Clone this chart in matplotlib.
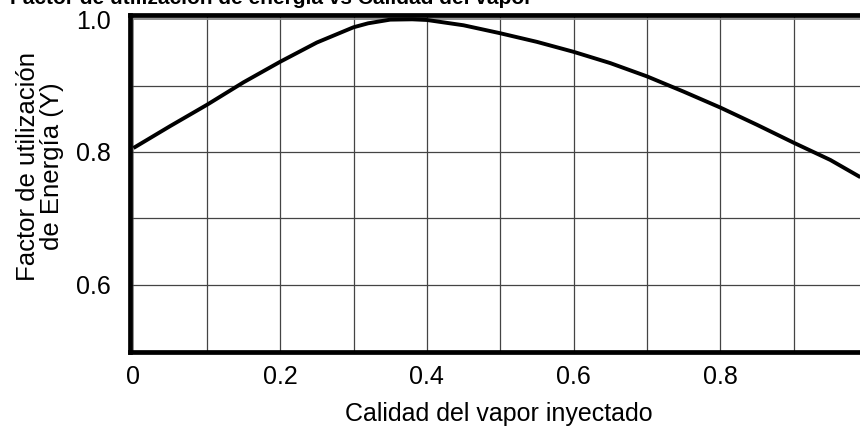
import matplotlib
matplotlib.use("Agg")
import matplotlib.pyplot as plt
import numpy as np

calidad = [0.0, 0.05, 0.1, 0.15, 0.2, 0.25, 0.3, 0.32, 0.35, 0.38, 0.4, 0.45, 0.5, 0.55,
           0.6, 0.65, 0.7, 0.75, 0.8, 0.85, 0.9, 0.95, 0.991]
factor = [0.806, 0.839, 0.871, 0.905, 0.936, 0.965, 0.988, 0.994, 0.9995, 1.0, 0.999, 0.991, 0.979, 0.966,
          0.951, 0.934, 0.914, 0.891, 0.867, 0.841, 0.814, 0.788, 0.762]
xticks = [0, 0.2, 0.4, 0.6, 0.8]
xtick_labels = ["0", "0.2", "0.4", "0.6", "0.8"]
yticks = [0.6, 0.8, 1.0]
ytick_labels = ["0.6", "0.8", "1.0"]
title = "Factor de utilización de energía vs Calidad del vapor"
xlabel = "Calidad del vapor inyectado"
ylabel = "Factor de utilización\nde Energía (Y)"

plt.rcParams['font.family'] = ['Liberation Sans', 'DejaVu Sans']

fig = plt.figure(figsize=(8.6, 4.33), dpi=100)
W, H = 860, 433
L, R, T, B = 130, 867, 15, 352
ax = fig.add_axes([L / W, 1 - B / H, (R - L) / W, (B - T) / H])
ax.set_xlim(-0.0047, 1.0)
ax.set_ylim(0.4985, 1.0065)

for xv in np.arange(0.0, 1.0, 0.1):
    ax.axvline(xv, color="#444444" if xv > 0 else "#888888", lw=0.9 if xv > 0 else 1.3, zorder=1)
for yv in [0.6, 0.7, 0.8, 0.9]:
    ax.axhline(yv, color="#444444", lw=0.9, zorder=1)
ax.axhline(1.0, color="#888888", lw=1.3, zorder=1)

ax.plot(calidad, factor, color="black", lw=2.8, zorder=3, solid_capstyle="butt", solid_joinstyle="round")

for s in ["left", "bottom", "top"]:
    ax.spines[s].set_linewidth(3.4)
    ax.spines[s].set_color("black")
ax.spines["right"].set_visible(False)

ax.set_xticks(xticks)
ax.set_xticklabels(xtick_labels, fontsize=18)
ax.set_yticks(yticks)
ax.set_yticklabels(ytick_labels, fontsize=18)
ax.tick_params(axis="x", length=0, pad=9)
ax.tick_params(axis="y", length=0, pad=14)

ax.set_xlabel(xlabel, fontsize=18, labelpad=10)
ax.set_ylabel(ylabel, fontsize=18.5, linespacing=1.0)
ax.yaxis.set_label_coords(-0.089, 0.55)

fig.text(10 / W, 1 - 4 / H, title, fontsize=15, fontweight="bold", ha="left", va="baseline")

fig.savefig("out.png", dpi=100, facecolor="white")
